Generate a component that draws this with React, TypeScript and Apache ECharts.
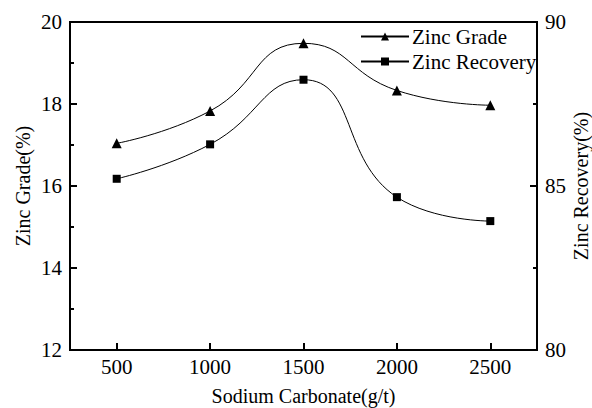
import React, { useEffect, useRef } from "react";
import * as echarts from "echarts";

const dosages = [500, 1000, 1500, 2000, 2500];
const zincGrade = [17.04, 17.83, 19.48, 18.33, 17.97];
const zincRecovery = [85.22, 86.27, 88.24, 84.66, 83.93];
const xTicks = [500, 1000, 1500, 2000, 2500];

const FONT = "'Liberation Serif', 'Times New Roman', serif";

export default function App() {
  const ref = useRef<HTMLDivElement>(null);
  useEffect(() => {
    if (!ref.current) return;
    const chart = echarts.init(ref.current, null, { renderer: "svg" });
    const axisLine = { show: true, lineStyle: { color: "#000", width: 2 } };
    const label = { color: "#000", fontFamily: FONT, fontSize: 21 };
    chart.setOption({
      animation: false,
      backgroundColor: "#fff",
      textStyle: { fontFamily: FONT },
      grid: {
        left: 70,
        right: 55,
        top: 22,
        bottom: 58,
        containLabel: false,
        outerBoundsMode: "none",
        show: true,
        borderColor: "#000",
        borderWidth: 2,
      },
      legend: {
        orient: "vertical",
        left: 355,
        top: 21,
        itemWidth: 48,
        itemHeight: 10,
        itemGap: 4,
        textStyle: { color: "#000", fontFamily: FONT, fontSize: 21, padding: [0, 0, 0, -2] },
        data: ["Zinc Grade", "Zinc Recovery"],
      },
      xAxis: {
        type: "value",
        min: 250,
        max: 2750,
        name: "Sodium Carbonate(g/t)",
        nameLocation: "middle",
        nameGap: 36,
        nameMoveOverlap: false,
        nameTextStyle: { color: "#000", fontFamily: FONT, fontSize: 20 },
        axisLine,
        axisTick: { show: true, inside: true, length: 7, customValues: xTicks, lineStyle: { color: "#000", width: 2 } },
        axisLabel: { ...label, margin: 6, customValues: xTicks, formatter: (v: number) => String(v) },
        splitLine: { show: false },
      },
      yAxis: [
        {
          type: "value",
          min: 12,
          max: 20,
          interval: 2,
          name: "Zinc Grade(%)",
          nameLocation: "middle",
          nameGap: 37,
          nameMoveOverlap: false,
          nameTextStyle: { color: "#000", fontFamily: FONT, fontSize: 20 },
          axisLine,
          axisTick: { show: true, inside: true, length: 7, lineStyle: { color: "#000", width: 2 } },
          minorTick: { show: true, splitNumber: 2, length: 4, lineStyle: { color: "#000", width: 2 } },
          axisLabel: { ...label, margin: 8, formatter: (v: number) => String(v) },
          splitLine: { show: false },
        },
        {
          type: "value",
          min: 80,
          max: 90,
          interval: 5,
          position: "right",
          name: "Zinc Recovery(%)",
          nameLocation: "middle",
          nameGap: 34,
          nameMoveOverlap: false,
          nameTextStyle: { color: "#000", fontFamily: FONT, fontSize: 20 },
          axisLine,
          axisTick: { show: true, inside: true, length: 7, lineStyle: { color: "#000", width: 2 } },
          minorTick: { show: true, splitNumber: 2, length: 4, lineStyle: { color: "#000", width: 2 } },
          axisLabel: { ...label, margin: 8, formatter: (v: number) => String(v) },
          splitLine: { show: false },
        },
      ],
      series: [
        {
          name: "Zinc Grade",
          type: "line",
          yAxisIndex: 0,
          data: dosages.map((d, i) => [d, zincGrade[i]]),
          smooth: 0.5,
          symbol: "triangle",
          symbolSize: 10,
          itemStyle: { color: "#000" },
          lineStyle: { color: "#000", width: 1 },
        },
        {
          name: "Zinc Recovery",
          type: "line",
          yAxisIndex: 1,
          data: dosages.map((d, i) => [d, zincRecovery[i]]),
          smooth: 0.5,
          symbol: "rect",
          symbolSize: 8,
          itemStyle: { color: "#000" },
          lineStyle: { color: "#000", width: 1 },
        },
      ],
    });
    return () => chart.dispose();
  }, []);
  return <div ref={ref} style={{ width: 592, height: 408, position: "absolute", left: 0, top: 0 }} />;
}
